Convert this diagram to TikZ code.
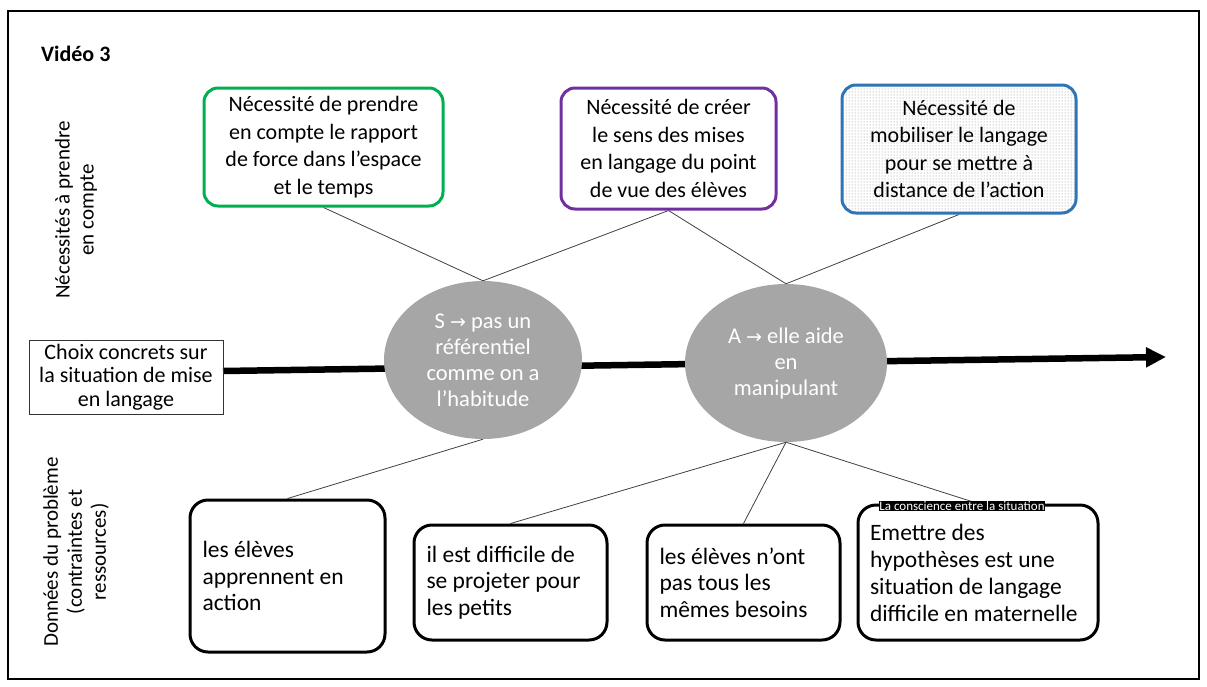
\documentclass[tikz,border=0pt]{standalone}
\usepackage{fontspec}
\setmainfont{Carlito}
\newfontfamily\symfont{DejaVu Sans}
\usetikzlibrary{arrows.meta,patterns,shapes.geometric}
\pgfdeclarelayer{background}
\pgfsetlayers{background,main}
\definecolor{bgreen}{RGB}{0,176,80}
\definecolor{bpurple}{RGB}{112,48,160}
\definecolor{bblue}{RGB}{46,117,182}
\definecolor{egray}{RGB}{166,166,166}
\newcommand{\rarrow}{{\symfont\fontsize{19}{20}\selectfont →}}
\begin{document}
\begin{tikzpicture}[x=1pt,y=-1pt,
  every node/.style={font=\fontsize{22}{27.5}\selectfont},
  topbox/.style={draw, line width=3pt, rounded corners=14pt, align=center, inner sep=0pt},
  botbox/.style={draw=black, line width=3pt, rounded corners=18pt, inner sep=0pt, align=flush left,
                 font=\fontsize{23.5}{26.5}\selectfont},
  ell/.style={ellipse, fill=egray, draw=none, inner sep=0pt, text=white, align=center,
              font=\fontsize{22.5}{26}\selectfont},
  conn/.style={draw=black!75, line width=0.8pt},
  sidelabel/.style={rotate=90, align=center, inner sep=0pt, font=\fontsize{21}{24}\selectfont}
]
\useasboundingbox (0,0) rectangle (1207,686);
\draw[line width=1.5pt] (8,11) rectangle (1199,679);

\node[anchor=base west, inner sep=0pt, font=\fontsize{22}{24}\selectfont\bfseries] (title) at (41,61) {Vidéo 3};

% side labels
\node[sidelabel] (lab1) at (76,210) {Nécessités à prendre\\en compte};
\node[sidelabel] (lab2) at (76,552) {Données du problème\\(contraintes et\\ressources)};

% top boxes
\node[topbox, draw=bgreen, minimum width=239, minimum height=118] (green) at (323.5,147) {Nécessité de prendre\\en compte le rapport\\de force dans l’espace\\et le temps};
\node[topbox, draw=bpurple, minimum width=215, minimum height=121] (purple) at (668.5,148.5) {Nécessité de créer\\le sens des mises\\en langage du point\\de vue des élèves};
\node[topbox, draw=bblue, minimum width=234, minimum height=128,
      preaction={fill=white}, pattern=dots, pattern color=black!45] (blue) at (959,149) {Nécessité de\\mobiliser le langage\\pour se mettre à\\distance de l’action};

% left box
\node[draw=black!80, line width=1pt, minimum width=194, minimum height=74, align=center, inner sep=0pt,
      font=\fontsize{22}{23.5}\selectfont] (choix) at (126,377) {Choix concrets sur\\la situation de mise\\en langage};

% ellipses
\node[ell, minimum width=198, minimum height=158] (e1) at (483,360) {S \rarrow{} pas un\\référentiel\\comme on a\\l’habitude};
\node[ell, minimum width=202, minimum height=158] (e2) at (786,363) {A \rarrow{} elle aide\\en\\manipulant};

% bottom boxes
\node[botbox, minimum width=195, minimum height=152, text width=170] (b1) at (287.5,576) {les élèves\\apprennent en\\action};
\node[botbox, minimum width=193, minimum height=115, text width=168] (b2) at (510.5,582.5) {il est difficile de\\se projeter pour\\les petits};
\node[botbox, minimum width=193, minimum height=115, text width=168] (b3) at (743.5,582.5) {les élèves n’ont\\pas tous les\\mêmes besoins};
\node[botbox, minimum width=240, minimum height=135, text width=216, font=\fontsize{23.5}{27}\selectfont] (b4) at (978,572.5) {Emettre des\\hypothèses est une\\situation de langage\\difficile en maternelle};
\node[fill=black, text=white, inner sep=0.6pt, font=\fontsize{13}{13}\selectfont] (garble) at (962,506) {La conscience entre la situation};

% thick axis
\coordinate (start) at (223,371);
\coordinate (tip) at (1166,357);
\begin{pgfonlayer}{background}
\draw[line width=6.5pt, -{Triangle[length=20pt,width=19pt]}] (start) -- (tip);
\draw[conn] (green.south) -- (e1.north);
\draw[conn] (e1.north) -- (purple.south);
\draw[conn] (purple.south) -- (e2.north);
\draw[conn] (e2.north) -- (blue.south);
\draw[conn] (e1.south) -- (b1.north);
\draw[conn] (e2.south) -- (b2.north);
\draw[conn] (e2.south) -- (b3.north);
\draw[conn] (e2.south) -- (b4.north);
\end{pgfonlayer}
\end{tikzpicture}
\end{document}
